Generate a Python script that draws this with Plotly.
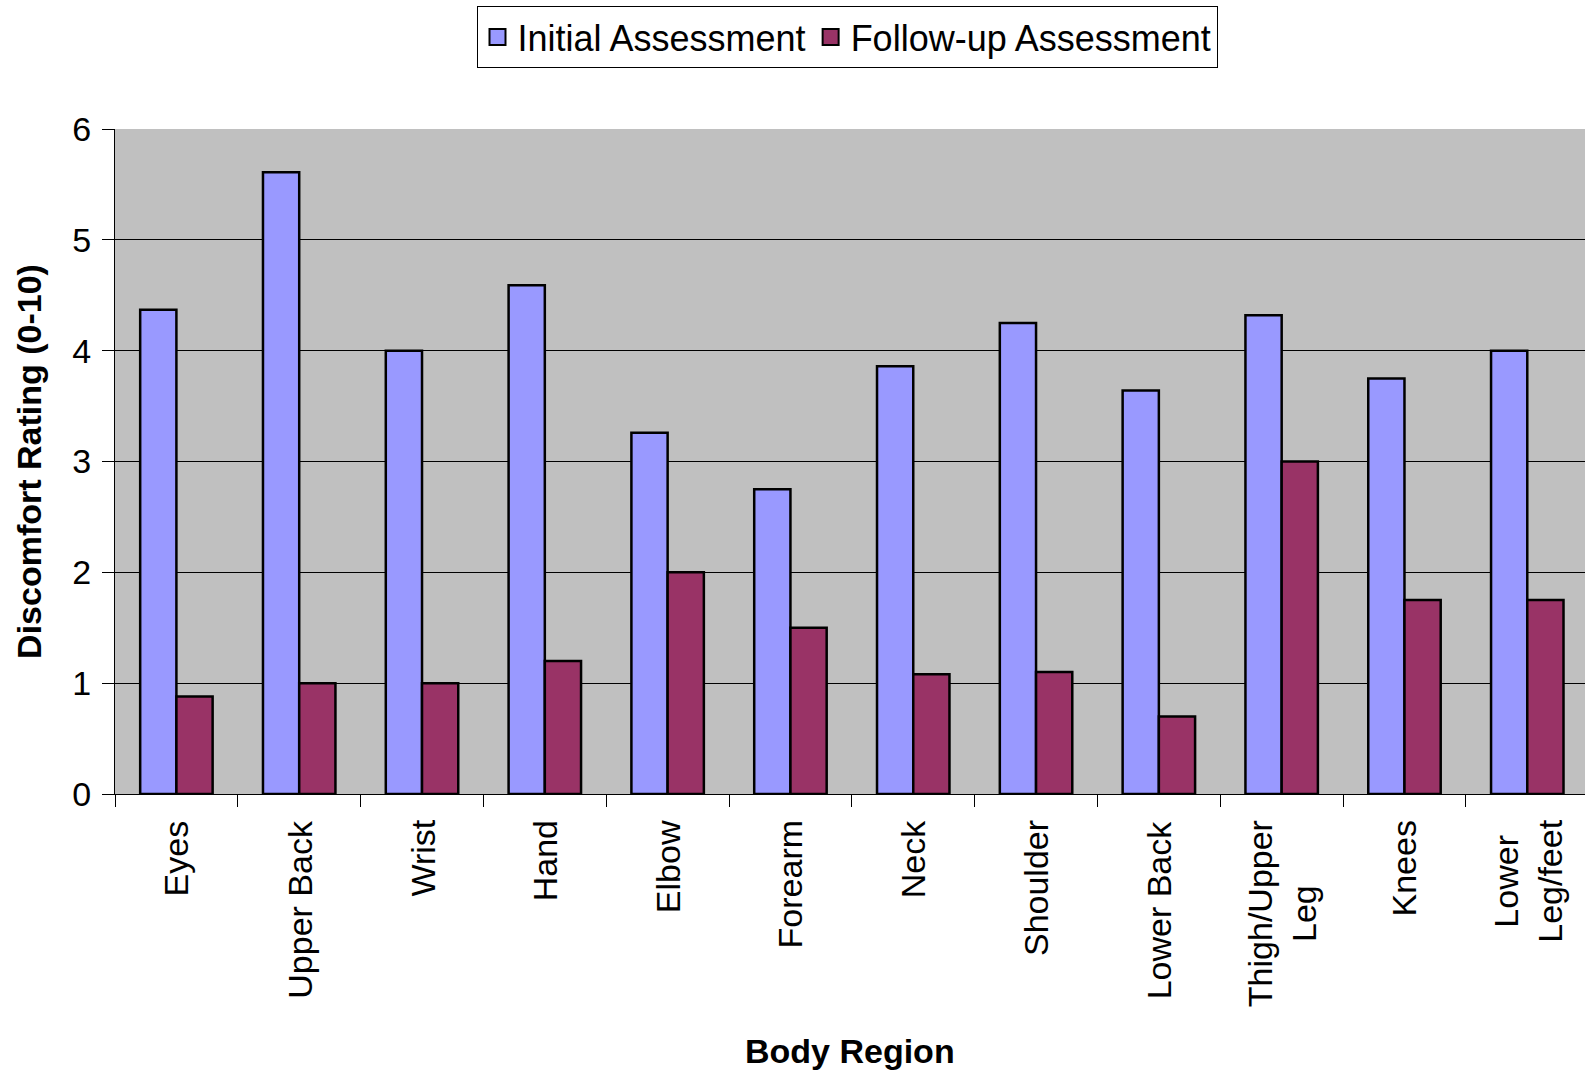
import plotly.graph_objects as go

# Body regions and mean discomfort ratings
regions = ["Eyes", "Upper Back", "Wrist", "Hand", "Elbow", "Forearm", "Neck",
           "Shoulder", "Lower Back", "Thigh/Upper<br>Leg", "Knees", "Lower<br>Leg/feet"]
initial = [4.37, 5.61, 4.0, 4.59, 3.26, 2.75, 3.86, 4.25, 3.64, 4.32, 3.75, 4.0]
follow_up = [0.88, 1.0, 1.0, 1.2, 2.0, 1.5, 1.08, 1.1, 0.7, 3.0, 1.75, 1.75]
y_ticks = [0, 1, 2, 3, 4, 5, 6]

series_names = ["Initial Assessment", "Follow-up Assessment"]
series_colors = ["#9999FF", "#993366"]

FONT = "Liberation Sans, Arial, sans-serif"
W, H = 1585, 1072
M_T, M_B = 129, 278
PLOT_H = H - M_T - M_B

fig = go.Figure()
for name, vals, col in zip(series_names, [initial, follow_up], series_colors):
    fig.add_trace(go.Bar(name=name, x=regions, y=vals, showlegend=False,
                         marker=dict(color=col, line=dict(color="black", width=2.5))))
# legend entries with larger square swatches
for name, col in zip(series_names, series_colors):
    fig.add_trace(go.Scatter(name=name, x=[None], y=[None], mode="markers",
                             marker=dict(symbol="square", size=16, color=col,
                                         line=dict(color="black", width=2))))

# rotated category labels, lines centred like the original chart
for r in regions:
    fig.add_annotation(x=r, xref="x", y=0, yref="paper", yanchor="top", xanchor="center",
                       yshift=-24, text=r, textangle=-90, align="center", showarrow=False,
                       font=dict(family=FONT, size=34, color="black"))

# x-axis title below the category labels
fig.add_annotation(x=0.5, xref="paper", y=-(1051 - (H - M_B)) / PLOT_H, yref="paper",
                   xanchor="center", yanchor="middle", text="<b>Body Region</b>",
                   showarrow=False, font=dict(family=FONT, size=34, color="black"))

fig.update_layout(
    width=W, height=H,
    margin=dict(l=115, r=0, t=M_T, b=M_B, pad=0),
    paper_bgcolor="white",
    plot_bgcolor="#C0C0C0",
    barmode="group",
    bargap=0.41,
    bargroupgap=0,
    font=dict(family=FONT, size=34, color="black"),
    legend=dict(
        orientation="h",
        xref="container", yref="container",
        x=847 / W, xanchor="center",
        y=1 - 6 / H, yanchor="top",
        bgcolor="white", bordercolor="black", borderwidth=1,
        font=dict(family=FONT, size=36),
        itemsizing="trace",
        itemwidth=30,
    ),
    xaxis=dict(
        range=[-0.5, 11.47],
        showticklabels=False,
        tickson="boundaries",
        ticks="outside", ticklen=12, tickcolor="black", tickwidth=1,
        showline=True, linecolor="black", linewidth=1,
        showgrid=False,
    ),
    yaxis=dict(
        range=[0, 6],
        tickvals=y_ticks,
        ticks="outside", ticklen=12, tickcolor="black", tickwidth=1,
        showline=True, linecolor="black", linewidth=1,
        showgrid=True, gridcolor="black", gridwidth=1,
        zeroline=False,
        tickfont=dict(family=FONT, size=34),
        ticklabelstandoff=4,
        title=dict(text="<b>Discomfort Rating (0-10)</b>", font=dict(family=FONT, size=34), standoff=20),
    ),
)

fig.write_html("out.html")
